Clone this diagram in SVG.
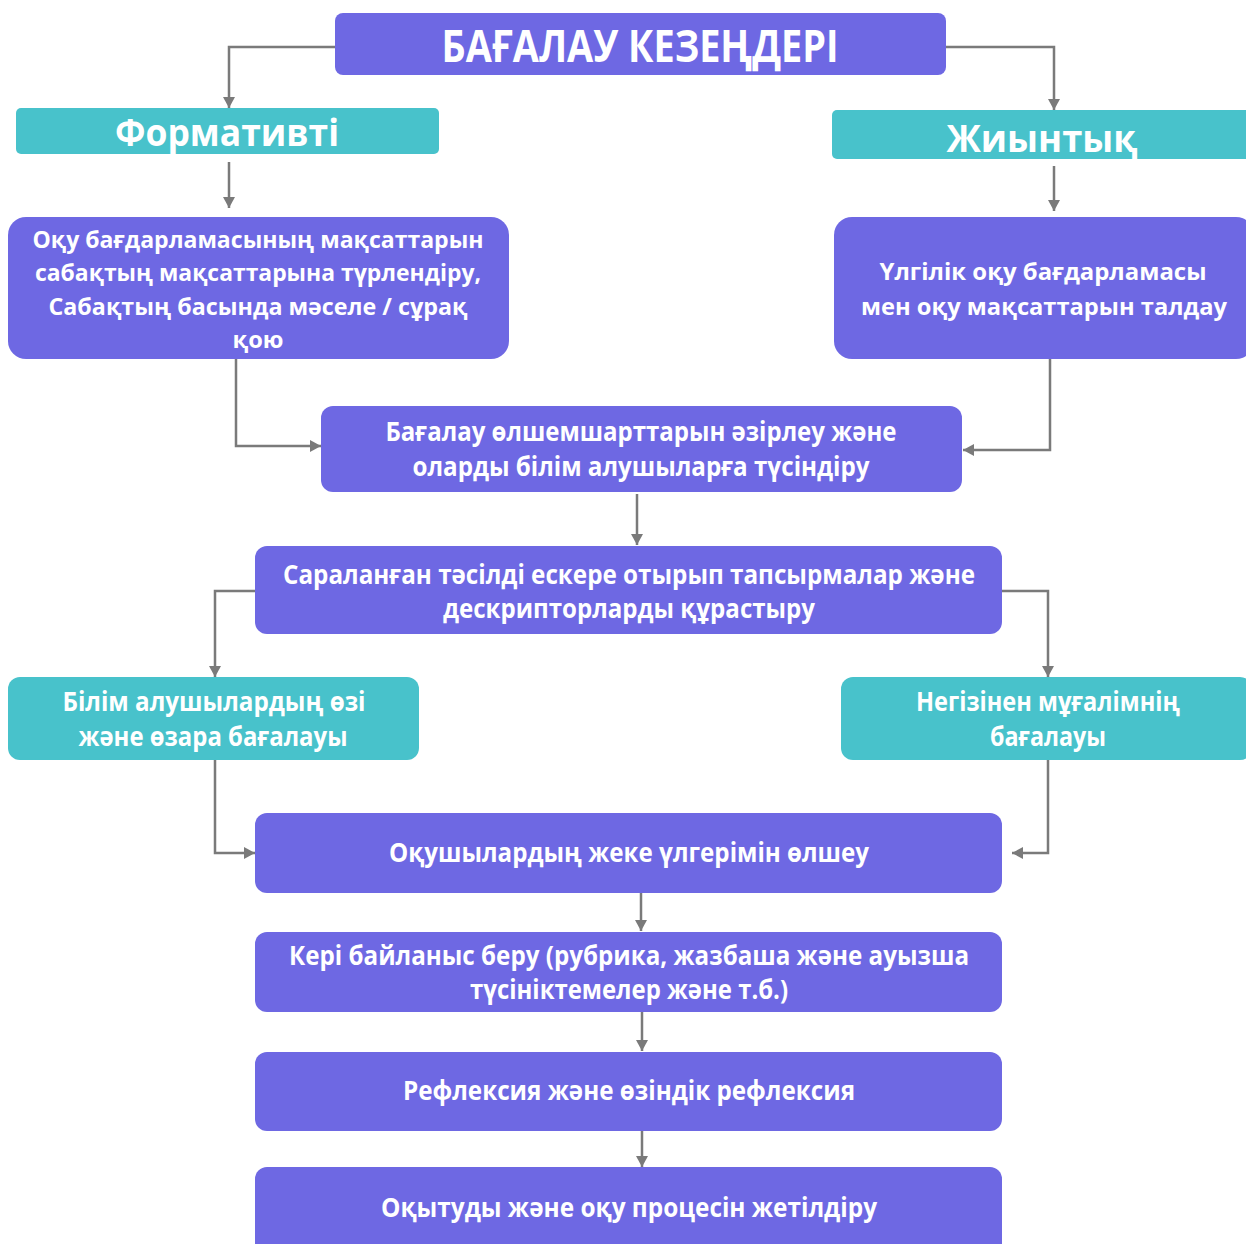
<svg xmlns="http://www.w3.org/2000/svg" width="1246" height="1244" viewBox="0 0 1246 1244">
<defs>
<marker id="ah" markerUnits="userSpaceOnUse" markerWidth="12" markerHeight="12" refX="11" refY="6" orient="auto">
<path d="M0,0 L11,6 L0,12 z" fill="#7a7a7a"/>
</marker>
<style>
.p{fill:#6e68e3}
.t{fill:#48c2cb}
.tx{fill:#ffffff;font-family:"Open Sans","Noto Sans","DejaVu Sans",sans-serif;font-weight:bold;text-anchor:middle}
.c{fill:none;stroke:#7a7a7a;stroke-width:2.5;marker-end:url(#ah)}
</style>
</defs>
<rect width="1246" height="1244" fill="#ffffff"/>
<g id="connectors">
<path class="c" d="M335,47 H229 V108"/>
<path class="c" d="M946,47 H1054 V110"/>
<path class="c" d="M229,162 V208"/>
<path class="c" d="M1054,166 V211"/>
<path class="c" d="M236,359 V446 H321"/>
<path class="c" d="M1050,359 V450 H963"/>
<path class="c" d="M637,494 V545"/>
<path class="c" d="M255,591 H215 V677"/>
<path class="c" d="M1002,591 H1048 V677"/>
<path class="c" d="M215,760 V853 H255"/>
<path class="c" d="M1048,760 V853 H1012"/>
<path class="c" d="M641,893 V931"/>
<path class="c" d="M642,1012 V1051"/>
<path class="c" d="M642,1131 V1167"/>
</g>
<g id="title">
<rect class="p" x="335" y="13" width="611" height="62" rx="8"/>
<text class="tx" x="640" y="62" font-size="44" textLength="397" lengthAdjust="spacingAndGlyphs">БАҒАЛАУ КЕЗЕҢДЕРІ</text>
</g>
<g id="formative">
<rect class="t" x="16" y="108" width="423" height="46" rx="5"/>
<text class="tx" x="227" y="146" font-size="38" textLength="224" lengthAdjust="spacingAndGlyphs">Формативті</text>
</g>
<g id="summative">
<rect class="t" x="832" y="110" width="420" height="49" rx="5"/>
<text class="tx" x="1042" y="152" font-size="38" textLength="191" lengthAdjust="spacingAndGlyphs">Жиынтық</text>
</g>
<g id="left-goals">
<rect class="p" x="8" y="217" width="501" height="142" rx="18"/>
<text class="tx" font-size="24" x="258" y="248" textLength="451" lengthAdjust="spacingAndGlyphs">Оқу бағдарламасының мақсаттарын</text>
<text class="tx" font-size="24" x="258" y="281" textLength="446" lengthAdjust="spacingAndGlyphs">сабақтың мақсаттарына түрлендіру,</text>
<text class="tx" font-size="24" x="258" y="315" textLength="419" lengthAdjust="spacingAndGlyphs">Сабақтың басында мәселе / сұрақ</text>
<text class="tx" font-size="24" x="258" y="348" textLength="51" lengthAdjust="spacingAndGlyphs">қою</text>
</g>
<g id="right-analysis">
<rect class="p" x="834" y="217" width="420" height="142" rx="18"/>
<text class="tx" font-size="24" x="1043" y="280" textLength="327" lengthAdjust="spacingAndGlyphs">Үлгілік оқу бағдарламасы</text>
<text class="tx" font-size="24" x="1044" y="315" textLength="366" lengthAdjust="spacingAndGlyphs">мен оқу мақсаттарын  талдау</text>
</g>
<g id="criteria">
<rect class="p" x="321" y="406" width="641" height="86" rx="12"/>
<text class="tx" font-size="26" x="641" y="441" textLength="511" lengthAdjust="spacingAndGlyphs">Бағалау өлшемшарттарын әзірлеу және</text>
<text class="tx" font-size="26" x="641" y="476" textLength="457" lengthAdjust="spacingAndGlyphs">оларды білім алушыларға түсіндіру</text>
</g>
<g id="tasks">
<rect class="p" x="255" y="546" width="747" height="88" rx="12"/>
<text class="tx" font-size="26" x="629" y="584" textLength="692" lengthAdjust="spacingAndGlyphs">Сараланған тәсілді ескере отырып тапсырмалар және</text>
<text class="tx" font-size="26" x="629" y="618" textLength="372" lengthAdjust="spacingAndGlyphs">дескрипторларды құрастыру</text>
</g>
<g id="self-peer">
<rect class="t" x="8" y="677" width="411" height="83" rx="12"/>
<text class="tx" font-size="26" x="214" y="711" textLength="303" lengthAdjust="spacingAndGlyphs">Білім алушылардың өзі</text>
<text class="tx" font-size="26" x="213" y="746" textLength="269" lengthAdjust="spacingAndGlyphs">және өзара бағалауы</text>
</g>
<g id="teacher">
<rect class="t" x="841" y="677" width="411" height="83" rx="12"/>
<text class="tx" font-size="26" x="1048" y="711" textLength="264" lengthAdjust="spacingAndGlyphs">Негізінен мұғалімнің</text>
<text class="tx" font-size="26" x="1048" y="746" textLength="116" lengthAdjust="spacingAndGlyphs">бағалауы</text>
</g>
<g id="measure">
<rect class="p" x="255" y="813" width="747" height="80" rx="12"/>
<text class="tx" font-size="26" x="629" y="862" textLength="480" lengthAdjust="spacingAndGlyphs">Оқушылардың жеке үлгерімін өлшеу</text>
</g>
<g id="feedback">
<rect class="p" x="255" y="932" width="747" height="80" rx="12"/>
<text class="tx" font-size="26" x="629" y="965" textLength="680" lengthAdjust="spacingAndGlyphs">Кері байланыс беру (рубрика, жазбаша және ауызша</text>
<text class="tx" font-size="26" x="629" y="999" textLength="318" lengthAdjust="spacingAndGlyphs">түсініктемелер және т.б.)</text>
</g>
<g id="reflection">
<rect class="p" x="255" y="1052" width="747" height="79" rx="12"/>
<text class="tx" font-size="26" x="629" y="1100" textLength="452" lengthAdjust="spacingAndGlyphs">Рефлексия және өзіндік рефлексия</text>
</g>
<g id="improve">
<rect class="p" x="255" y="1167" width="747" height="90" rx="12"/>
<text class="tx" font-size="26" x="629" y="1217" textLength="496" lengthAdjust="spacingAndGlyphs">Оқытуды және оқу процесін жетілдіру</text>
</g>
</svg>
